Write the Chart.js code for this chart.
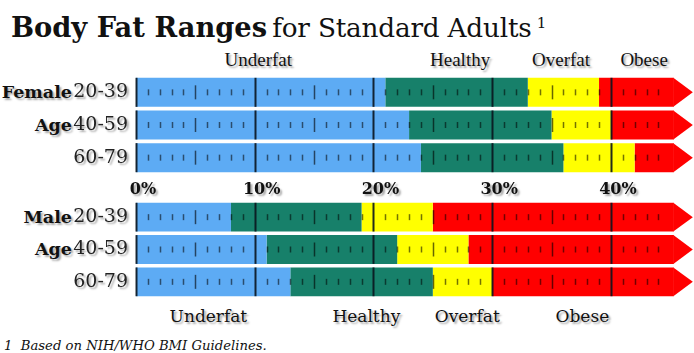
<!DOCTYPE html>
<html>
<head>
<meta charset="utf-8">
<script src="https://cdn.jsdelivr.net/npm/chart.js@4.4.1/dist/chart.umd.min.js"></script>
<style>
    body { margin: 0; background: #fff; }
    #wrap { position: relative; width: 694px; height: 353px; overflow: hidden; font-family: "DejaVu Serif", serif; color: #111; }
    .txt { position: absolute; white-space: nowrap; line-height: 20px; }
    .shadow { text-shadow: 2px 2px 2px rgba(0,0,0,0.35); }
    .c { transform: translateX(-50%); }
    .side { left: 0; width: 72px; text-align: right; font-size: 17.5px; font-weight: bold; }
    canvas { position: absolute; left: 0; }
</style>
</head>
<body>
<div id="wrap">
    <div class="txt" style="left:11px;top:8px;line-height:30px;"><b style="font-size:27.3px;">Body Fat Ranges</b> <span style="font-size:26.3px;letter-spacing:-0.2px;">for Standard Adults</span> <sup style="font-size:15px;vertical-align:9px;">1</sup></div>

    <!-- range names above the female bars -->
    <div class="txt shadow c" id="topU" style="top:50px;font-family:'Liberation Serif';font-size:19px;"></div>
    <div class="txt shadow c" id="topH" style="top:50px;font-family:'Liberation Serif';font-size:19px;"></div>
    <div class="txt shadow c" id="topO" style="top:50px;font-family:'Liberation Serif';font-size:19px;"></div>
    <div class="txt shadow c" id="topB" style="top:50px;font-family:'Liberation Serif';font-size:19px;"></div>

    <div class="txt shadow side" style="top:82px;">Female</div>
    <div class="txt shadow side" style="top:115px;">Age</div>
    <div class="txt shadow side" style="top:207px;">Male</div>
    <div class="txt shadow side" style="top:239px;">Age</div>

    <canvas id="female-chart"></canvas>
    <canvas id="male-chart"></canvas>

    <!-- range names below the male bars -->
    <div class="txt shadow c" id="botU" style="top:306px;font-size:17px;"></div>
    <div class="txt shadow c" id="botH" style="top:306px;font-size:17px;"></div>
    <div class="txt shadow c" id="botO" style="top:306px;font-size:17px;"></div>
    <div class="txt shadow c" id="botB" style="top:306px;font-size:17px;"></div>

    <div class="txt" style="left:4px;top:336px;font-size:13.2px;font-style:italic;">1&nbsp; Based on NIH/WHO BMI Guidelines.</div>
</div>

<script>
// Data (percent body fat where each range ends)
const ageGroups = ["20-39", "40-59", "60-79"];
const femaleUnderfatEnd = [21, 23, 24];
const femaleHealthyEnd = [33, 35, 36];
const femaleOverfatEnd = [39, 40, 42];
const maleUnderfatEnd = [8, 11, 13];
const maleHealthyEnd = [19, 22, 25];
const maleOverfatEnd = [25, 28, 30];
const obeseEnd = [45.3, 45.3, 45.3];   // arrow starts here
const xTickValues = [0, 10, 20, 30, 40];
const rangeNames = ["Underfat", "Healthy", "Overfat", "Obese"];
const rangeColors = ["#5dabf4", "#17806a", "#ffff00", "#ff0000"];

// Where the range names sit (value on the % axis)
const topLabelAt = [10.3, 27.3, 35.8, 42.8];
const bottomLabelAt = [6.1, 19.4, 27.9, 37.6];

const X_MAX = 47;
const ARROW_LEN = 19;

// Turn range ends into stacked segment widths
function buildDatasets(under, healthy, over) {
    const ends = [under, healthy, over, obeseEnd];
    return rangeNames.map((name, i) => ({
        label: name,
        data: ends[i].map((v, k) => i === 0 ? v : v - ends[i - 1][k]),
        backgroundColor: rangeColors[i],
        borderWidth: 0,
        barPercentage: 0.89,
        categoryPercentage: 1
    }));
}

// Soft shadow on the axis labels only (scales are drawn before the bars)
const labelShadow = {
    id: "labelShadow",
    beforeDraw(chart) {
        const ctx = chart.ctx;
        ctx.save();
        ctx.shadowColor = "rgba(0,0,0,0.35)";
        ctx.shadowOffsetX = 2;
        ctx.shadowOffsetY = 2;
        ctx.shadowBlur = 2;
    },
    beforeDatasetsDraw(chart) {
        chart.ctx.restore();
    }
};

// Small tick marks drawn inside every bar + the red arrow head
const barMarks = {
    id: "barMarks",
    afterDatasetsDraw(chart) {
        const ctx = chart.ctx;
        const xs = chart.scales.x;
        const lastMeta = chart.getDatasetMeta(chart.data.datasets.length - 1);
        ctx.save();
        lastMeta.data.forEach(bar => {
            const top = bar.y - bar.height / 2;
            const bottom = bar.y + bar.height / 2;

            // arrow head
            ctx.fillStyle = rangeColors[3];
            ctx.beginPath();
            ctx.moveTo(bar.x - 0.5, top);
            ctx.lineTo(bar.x + ARROW_LEN, bar.y);
            ctx.lineTo(bar.x - 0.5, bottom);
            ctx.closePath();
            ctx.fill();

            // tick marks every 1%
            for (let v = 0; v <= 44; v++) {
                const px = Math.round(xs.getPixelForValue(v)) + 0.5;
                ctx.beginPath();
                if (v % 10 === 0) {
                    ctx.strokeStyle = "rgba(10,20,30,0.9)";
                    ctx.lineWidth = 2;
                    ctx.moveTo(px, top);
                    ctx.lineTo(px, bottom);
                } else if (v % 5 === 0) {
                    ctx.strokeStyle = "rgba(0,0,0,0.6)";
                    ctx.lineWidth = 1.5;
                    ctx.moveTo(px, bar.y - 7);
                    ctx.lineTo(px, bar.y + 7);
                } else {
                    ctx.strokeStyle = "rgba(0,0,0,0.55)";
                    ctx.lineWidth = 1.5;
                    ctx.moveTo(px, bar.y - 3);
                    ctx.lineTo(px, bar.y + 3);
                }
                ctx.stroke();
            }
        });
        ctx.restore();
    }
};

function makeChart(id, top, height, datasets, showX, padTop, padBottom) {
    const canvas = document.getElementById(id);
    canvas.width = 694;
    canvas.height = height;
    canvas.style.top = top + "px";
    canvas.style.width = "694px";
    canvas.style.height = height + "px";
    return new Chart(canvas, {
        type: "bar",
        data: { labels: ageGroups, datasets: datasets },
        options: {
            indexAxis: "y",
            responsive: false,
            animation: false,
            events: [],
            layout: { padding: { top: padTop, bottom: padBottom, left: 0, right: 0 } },
            plugins: { legend: { display: false }, tooltip: { enabled: false } },
            scales: {
                x: {
                    stacked: true,
                    min: 0,
                    max: X_MAX,
                    display: showX,
                    afterBuildTicks: s => { s.ticks = xTickValues.map(v => ({ value: v })); },
                    afterFit: s => { s.height = showX ? 30 : 0; s.paddingLeft = 0; s.paddingRight = 0; },
                    grid: { display: false, drawTicks: false },
                    border: { display: false },
                    ticks: {
                        padding: 6,
                        labelOffset: 7,
                        color: "#111",
                        font: { family: "DejaVu Serif", weight: "bold", size: 16 },
                        callback: v => v + "%"
                    }
                },
                y: {
                    stacked: true,
                    afterFit: s => { s.width = 136; s.paddingTop = 0; s.paddingBottom = 0; },
                    grid: { display: false, drawTicks: false },
                    border: { display: false },
                    ticks: {
                        padding: 8,
                        color: "#222",
                        font: { family: "DejaVu Serif", size: 19 }
                    }
                }
            }
        },
        plugins: [labelShadow, barMarks]
    });
}

const femaleChart = makeChart("female-chart", 70, 140,
    buildDatasets(femaleUnderfatEnd, femaleHealthyEnd, femaleOverfatEnd), true, 6, 6);
const maleChart = makeChart("male-chart", 195, 110,
    buildDatasets(maleUnderfatEnd, maleHealthyEnd, maleOverfatEnd), false, 6, 7);

// Place the range names using the chart's own x scale
const xs = femaleChart.scales.x;
["topU", "topH", "topO", "topB"].forEach((id, i) => {
    const el = document.getElementById(id);
    el.textContent = rangeNames[i];
    el.style.left = xs.getPixelForValue(topLabelAt[i]) + "px";
});
["botU", "botH", "botO", "botB"].forEach((id, i) => {
    const el = document.getElementById(id);
    el.textContent = rangeNames[i];
    el.style.left = xs.getPixelForValue(bottomLabelAt[i]) + "px";
});
</script>
</body>
</html>
